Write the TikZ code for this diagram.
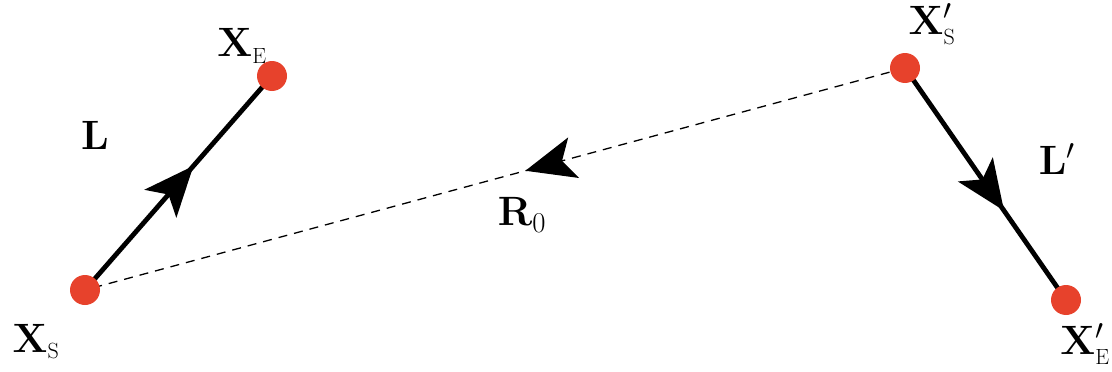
\RequirePackage{fix-cm}
\documentclass[tikz,border=0pt]{standalone}
\usetikzlibrary{arrows.meta,decorations.markings}
\definecolor{dotred}{RGB}{231,66,44}
\newcommand{\subl}[1]{\mbox{\fontsize{22}{22}\selectfont\rmfamily #1}}
\begin{document}
\begin{tikzpicture}[x=1pt,y=-1pt,
  dot/.style={circle,fill=dotred,minimum size=30pt,inner sep=0pt},
  lbl/.style={font=\fontsize{41}{46}\selectfont,inner sep=0pt},
  seg/.style={line width=4.8pt,black},
  dsh/.style={line width=1.3pt,dash pattern=on 9pt off 7pt},
  midarrow/.style={postaction={decorate},decoration={markings,
     mark=at position #1 with {\arrow{Stealth[length=50pt,width=42pt,inset=12pt]}}}}]
\useasboundingbox (0,0) rectangle (1112,372);
\coordinate (xs) at (85,290);
\coordinate (xe) at (272,76);
\coordinate (ys) at (905,68);
\coordinate (ye) at (1066,300);
\draw[dsh,midarrow=0.463] (ys) -- (xs);
\draw[seg,midarrow=0.58] (xs) -- (xe);
\draw[seg,midarrow=0.615] (ys) -- (ye);
\node[dot] (dxs) at (xs) {};
\node[dot] (dxe) at (xe) {};
\node[dot] (dys) at (ys) {};
\node[dot] (dye) at (ye) {};
\node[lbl] (lxs) at (36,342) {$\mathbf{X}_{\subl{S}}$};
\node[lbl] (lxe) at (242,46) {$\mathbf{X}_{\subl{E}}$};
\node[lbl] (lys) at (932,24) {$\mathbf{X}'_{\subl{S}}$};
\node[lbl] (lye) at (1085,344) {$\mathbf{X}'_{\subl{E}}$};
\node[lbl] (ll) at (95,135) {$\mathbf{L}$};
\node[lbl] (llp) at (1057,159) {$\mathbf{L}'$};
\node[lbl] (lr) at (522,215) {$\mathbf{R}_0$};
\end{tikzpicture}
\end{document}
